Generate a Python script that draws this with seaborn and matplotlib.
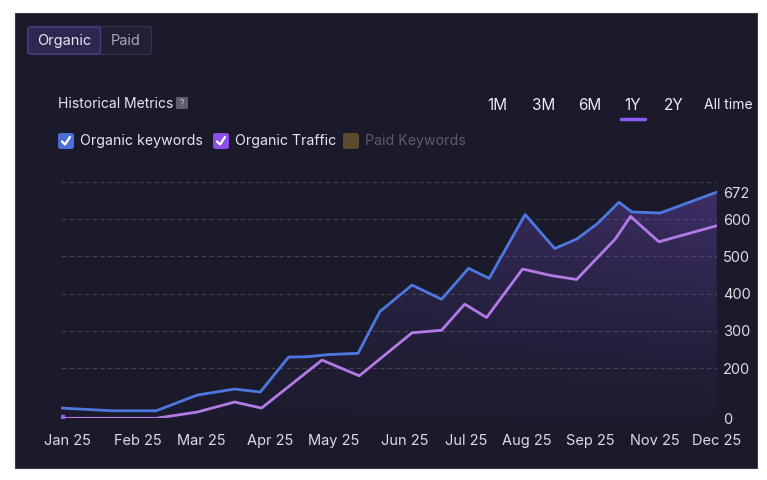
import numpy as np
import pandas as pd
import seaborn as sns
import matplotlib.pyplot as plt
from matplotlib.patches import FancyBboxPatch, Rectangle
from matplotlib.lines import Line2D

# data (x = week of the year)
kw_weeks = [0, 4, 7.4, 10.6, 13.5, 15.5, 17.7, 19.1, 20.9, 23.1, 24.8, 27.3, 29.6,
            31.7, 33.3, 36.1, 38.4, 40.1, 41.7, 43.4, 44.4, 46.6, 51]
kw_values = [41, 30, 30, 93, 117, 105, 230, 231, 237, 240, 352, 423, 385,
             468, 441, 612, 521, 546, 587, 645, 619, 616, 672]

traffic_weeks = [0, 7.4, 10.6, 13.5, 15.6, 20.3, 23.2, 27.3, 29.6, 31.4, 33.1,
                 35.9, 38.2, 40.1, 43.1, 44.3, 46.5, 51]
traffic_values = [0, 0, 25, 65, 41, 222, 170, 295, 302, 372, 336,
                  466, 448, 438, 546, 607, 539, 582]

month_labels = ['Jan 25', 'Feb 25', 'Mar 25', 'Apr 25', 'May 25', 'Jun 25',
                'Jul 25', 'Aug 25', 'Sep 25', 'Nov 25', 'Dec 25']
month_weeks = [0.5, 6.0, 10.9, 16.3, 21.2, 26.7, 31.5, 36.2, 41.2, 46.2, 51]

y_ticks = [0, 200, 300, 400, 500, 600, 672]
y_grid = [0, 200, 300, 400, 500, 600, 700]
ranges = ['1M', '3M', '6M', '1Y', '2Y', 'All time']

kw_df = pd.DataFrame({'week': kw_weeks, 'value': kw_values})
tr_df = pd.DataFrame({'week': traffic_weeks, 'value': traffic_values})

sns.set_theme(style='dark')
plt.rcParams['font.family'] = ['Inter', 'DejaVu Sans']

BG = '#1b1a2b'
BLUE = '#4d78e0'
PURPLE = '#b27be6'
TXT = '#dcdbe5'

W, H = 767, 480
fig = plt.figure(figsize=(W / 100, H / 100), dpi=100)
fig.patch.set_facecolor('white')


def fx(x):
    return x / W


def fy(y):
    return 1 - y / H


# dark panel
fig.patches.append(Rectangle((fx(15), fy(468)), fx(742), 455 / H, transform=fig.transFigure,
                             facecolor=BG, edgecolor='#3a394a', lw=0.8, zorder=-5))

# chart axes
ax = fig.add_axes([fx(61), fy(418.3), fx(716.7 - 61), (418.3 - 181.7) / H])
ax.set_facecolor('none')
ax.set_zorder(2)

# the y axis is squeezed below 200
knots_v = [0, 200, 700]
knots_p = [0, 50, 236.6]


def fwd(v):
    return np.interp(v, knots_v, knots_p)


def inv(p):
    return np.interp(p, knots_p, knots_v)


ax.set_yscale('function', functions=(fwd, inv))
ax.set_ylim(0, 700)
ax.set_xlim(0, 51)

# gradient fill under keywords line
poly = ax.fill_between(kw_df['week'], kw_df['value'], 0, color='none', lw=0)
yy, xx = np.mgrid[0:1:200j, 0:1:200j]
grad = np.zeros((200, 200, 4))
grad[..., 0] = 0.42
grad[..., 1] = 0.29
grad[..., 2] = 0.72
grad[..., 3] = (0.04 + 0.42 * yy ** 1.3) * (0.35 + 0.65 * xx)
im = ax.imshow(grad, extent=[0, 1, 0, 1], origin='lower', transform=ax.transAxes,
               aspect='auto', zorder=1)
im.set_clip_path(poly.get_paths()[0], transform=ax.transData)

for g in y_grid:
    ax.axhline(g, color='#44424f', lw=0.8, ls=(0, (4, 3)), zorder=0.5)

sns.lineplot(data=kw_df, x='week', y='value', ax=ax, color=BLUE, lw=2, zorder=3)
sns.lineplot(data=tr_df, x='week', y='value', ax=ax, color=PURPLE, lw=2, zorder=3)
ax.plot(traffic_weeks[0], traffic_values[0], 's', color='#9b5de5', ms=4, zorder=4)

ax.set_xlabel('')
ax.set_ylabel('')
ax.grid(False)
for s in ax.spines.values():
    s.set_visible(False)
ax.yaxis.tick_right()
ax.set_yticks(y_ticks)
ax.set_yticklabels([str(t) for t in y_ticks])
ax.set_xticks(month_weeks)
ax.set_xticklabels(month_labels)
ax.tick_params(axis='both', length=0, colors=TXT, labelsize=10.5)
ax.tick_params(axis='y', pad=4.5)
ax.tick_params(axis='x', pad=11)

# toggle Organic / Paid
fig.patches.append(FancyBboxPatch((fx(27.5), fy(54.5)), fx(124), 28 / H,
                                  boxstyle='round,pad=0,rounding_size=0.006',
                                  transform=fig.transFigure, facecolor='#201f33',
                                  edgecolor='#353348', lw=0.9))
fig.patches.append(FancyBboxPatch((fx(28), fy(54)), fx(72.5), 27 / H,
                                  boxstyle='round,pad=0,rounding_size=0.006',
                                  transform=fig.transFigure, facecolor='#2c2850',
                                  edgecolor='#4b3f8c', lw=0.9))
fig.text(fx(64.5), fy(41), 'Organic', color='#e6e5ee', fontsize=10.5, ha='center', va='center')
fig.text(fx(126), fy(41), 'Paid', color='#a9a8b8', fontsize=10.5, ha='center', va='center')

# title
fig.text(fx(58), fy(103.5), 'Historical Metrics', color='#e6e5ee', fontsize=10, ha='left', va='center')
fig.patches.append(FancyBboxPatch((fx(176), fy(109)), fx(12), 12 / H,
                                  boxstyle='round,pad=0,rounding_size=0.002',
                                  transform=fig.transFigure, facecolor='#5d5c6a', lw=0))
fig.text(fx(182), fy(103), '?', color='#c8c7d2', fontsize=6, ha='center', va='center')

# legend checkboxes
legend_items = [(58, 'Organic keywords', '#4b6fd6', '#e6e5ee', True),
                (213, 'Organic Traffic', '#8b4ee6', '#e6e5ee', True),
                (343, 'Paid Keywords', '#5a4b2c', '#5e5c6c', False)]
for x0, label, box_c, txt_c, checked in legend_items:
    fig.patches.append(FancyBboxPatch((fx(x0), fy(149)), fx(16), 16 / H,
                                      boxstyle='round,pad=0,rounding_size=0.004',
                                      transform=fig.transFigure, facecolor=box_c, lw=0))
    if checked:
        fig.lines.append(Line2D([fx(x0 + 4), fx(x0 + 7), fx(x0 + 12)],
                                [fy(141.5), fy(144.5), fy(137)], transform=fig.transFigure,
                                color='white', lw=1.6, solid_capstyle='round',
                                solid_joinstyle='round'))
    fig.text(fx(x0 + 22), fy(141), label, color=txt_c, fontsize=10.2, ha='left', va='center')

# time range selector
range_x = [497, 544, 590, 633, 674, 728]
for rx, r in zip(range_x, ranges):
    fig.text(fx(rx), fy(105), r, color='#ecebf3', fontsize=11 if r != 'All time' else 10,
             ha='center', va='center')
fig.lines.append(Line2D([fx(621), fx(645)], [fy(119), fy(119)], transform=fig.transFigure,
                        color='#8b5cf6', lw=2.5, solid_capstyle='round'))

fig.savefig('out.png', dpi=100, facecolor=fig.get_facecolor())
